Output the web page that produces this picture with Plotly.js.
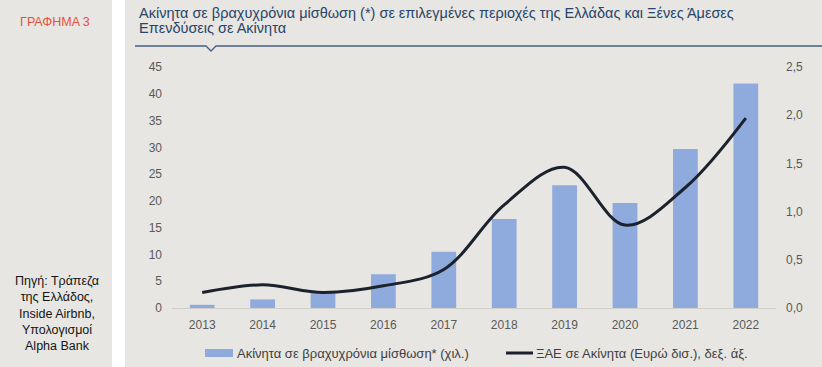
<!DOCTYPE html>
<html>
<head>
<meta charset="utf-8">
<script src="https://cdn.plot.ly/plotly-3.0.1.min.js"></script>
<style>
html,body{margin:0;padding:0;background:#fff;}
#chart{width:822px;height:367px;}
</style>
</head>
<body>
<div id="chart"></div>
<script>
// ---- data ----
const years = ['2013','2014','2015','2016','2017','2018','2019','2020','2021','2022'];
const rentals = [0.6, 1.6, 2.8, 6.3, 10.5, 16.6, 22.9, 19.6, 29.7, 41.9]; // thousands, left axis
const fdi = [0.16, 0.24, 0.16, 0.23, 0.40, 1.07, 1.46, 0.86, 1.25, 1.97]; // EUR bn, right axis
const rentalsName = 'Ακίνητα σε βραχυχρόνια μίσθωση* (χιλ.)';
const fdiName = 'ΞΑΕ σε Ακίνητα (Ευρώ δισ.), δεξ. άξ.';
const titleLine1 = 'Ακίνητα σε βραχυχρόνια μίσθωση (*) σε επιλεγμένες περιοχές της Ελλάδας και Ξένες Άμεσες';
const titleLine2 = 'Επενδύσεις σε Ακίνητα';
const chartLabel = 'ΓΡΑΦΗΜΑ 3';
const sourceText = 'Πηγή: Τράπεζα<br>της Ελλάδος,<br>Inside Airbnb,<br>Υπολογισμοί<br>Alpha Bank';

// ---- geometry helpers (pixel -> paper) ----
const W = 822, H = 367;
const L = 172, R = 776, T = 67, B = 308;
const fx = p => (p - L) / (R - L);
const fy = p => (B - p) / (B - T);

const FONT = 'Liberation Sans, Arial, sans-serif';
const BG = 'rgb(231,230,226)';
const BAR = 'rgb(143,170,220)';
const LINE = 'rgb(28,33,46)';

const traces = [
  {
    type: 'bar', x: years, y: rentals, name: rentalsName,
    marker: {color: BAR}, yaxis: 'y', hoverinfo: 'x+y'
  },
  {
    type: 'scatter', mode: 'lines', x: years, y: fdi, name: fdiName,
    line: {color: LINE, width: 3, shape: 'spline', smoothing: 1},
    yaxis: 'y2', hoverinfo: 'x+y'
  }
];

const tickFont = {family: FONT, size: 12, color: 'rgb(89,89,89)'};

const layout = {
  width: W, height: H,
  margin: {l: L, r: W - R, t: T, b: H - B, pad: 0},
  paper_bgcolor: BG,
  plot_bgcolor: 'rgba(0,0,0,0)',
  showlegend: false,
  separators: ',.',
  bargap: 0.59,
  font: {family: FONT},
  xaxis: {
    type: 'category', showgrid: false, zeroline: false,
    showline: true, linecolor: 'rgb(208,206,201)', linewidth: 1,
    ticks: '', tickfont: tickFont, ticklabelstandoff: 6, fixedrange: true
  },
  yaxis: {
    range: [0, 45], dtick: 5, tick0: 0, showgrid: false, zeroline: false,
    showline: false, ticks: '', tickfont: tickFont, ticklabelstandoff: 9, fixedrange: true
  },
  yaxis2: {
    range: [0, 2.5], dtick: 0.5, tick0: 0, tickformat: '.1f', overlaying: 'y', side: 'right',
    showgrid: false, zeroline: false, showline: false, ticks: '',
    tickfont: tickFont, ticklabelstandoff: 9, fixedrange: true
  },
  shapes: [
    // white separator band between side panel and chart panel
    {type: 'rect', xref: 'paper', yref: 'paper', x0: fx(112), x1: fx(125), y0: fy(H + 5), y1: fy(-5),
     fillcolor: '#ffffff', line: {width: 0}, layer: 'below'},
    // title rule with notch
    {type: 'path', xref: 'paper', yref: 'paper', layer: 'above',
     path: `M${fx(135)},${fy(46)} L${fx(206)},${fy(46)} L${fx(211)},${fy(51)} L${fx(216)},${fy(46)} L${fx(823)},${fy(46)}`,
     line: {color: 'rgb(70,98,128)', width: 1.3}},
    // legend swatches
    {type: 'rect', xref: 'paper', yref: 'paper', x0: fx(205), x1: fx(233), y0: fy(357), y1: fy(349),
     fillcolor: BAR, line: {width: 0}},
    {type: 'line', xref: 'paper', yref: 'paper', x0: fx(506), x1: fx(533), y0: fy(353), y1: fy(353),
     line: {color: LINE, width: 3}}
  ],
  annotations: [
    {xref: 'paper', yref: 'paper', x: fx(137), y: fy(13), xanchor: 'left', yanchor: 'middle',
     text: titleLine1, showarrow: false, font: {family: FONT, size: 14.5, color: 'rgb(40,68,104)'}},
    {xref: 'paper', yref: 'paper', x: fx(137), y: fy(28), xanchor: 'left', yanchor: 'middle',
     text: titleLine2, showarrow: false, font: {family: FONT, size: 14.5, color: 'rgb(40,68,104)'}},
    {xref: 'paper', yref: 'paper', x: fx(55), y: fy(22), xanchor: 'center', yanchor: 'middle',
     text: chartLabel, showarrow: false, font: {family: FONT, size: 12.5, color: 'rgb(228,82,62)'}},
    {xref: 'paper', yref: 'paper', x: fx(57), y: fy(313), xanchor: 'center', yanchor: 'middle',
     text: sourceText, align: 'center', showarrow: false, font: {family: FONT, size: 12.5, color: 'rgb(20,20,20)'}},
    {xref: 'paper', yref: 'paper', x: fx(235), y: fy(353), xanchor: 'left', yanchor: 'middle',
     text: rentalsName, showarrow: false, font: {family: FONT, size: 13, color: 'rgb(64,64,64)'}},
    {xref: 'paper', yref: 'paper', x: fx(534), y: fy(353), xanchor: 'left', yanchor: 'middle',
     text: fdiName, showarrow: false, font: {family: FONT, size: 13, color: 'rgb(64,64,64)'}}
  ]
};

Plotly.newPlot('chart', traces, layout, {displayModeBar: false, staticPlot: true});
</script>
</body>
</html>
